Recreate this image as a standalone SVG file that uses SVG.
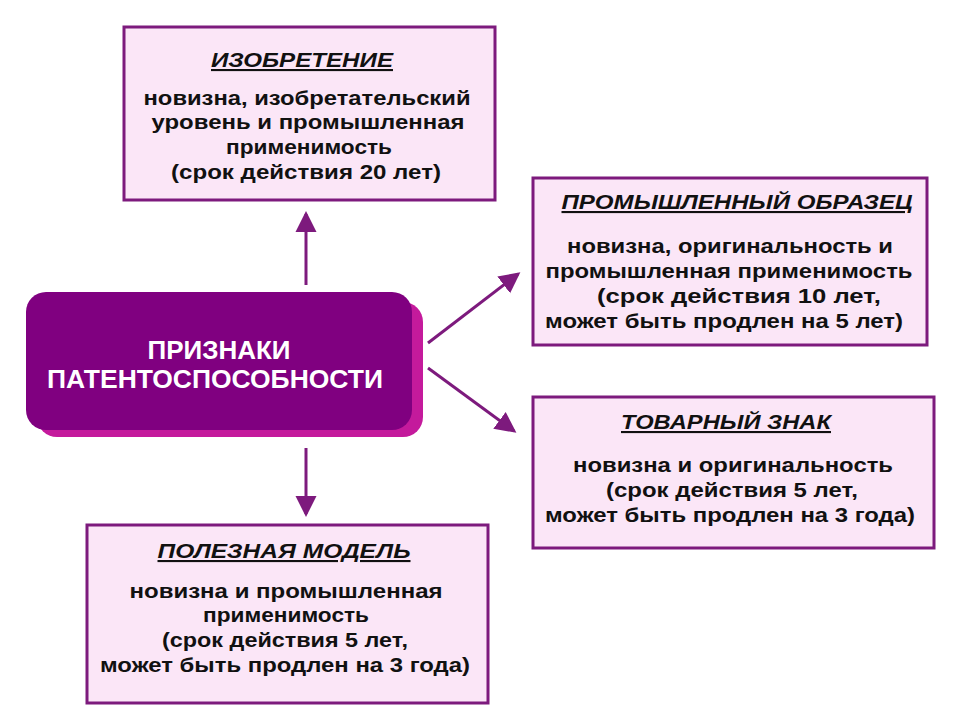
<svg xmlns="http://www.w3.org/2000/svg" width="960" height="720" viewBox="0 0 960 720">
<style>
.box{fill:#fbe6f7;stroke:#7d1a7d;stroke-width:3}
.t{font-family:"Liberation Sans",Arial,sans-serif;font-weight:bold;font-size:21px;fill:#111;text-anchor:middle}
.h{font-style:italic;text-decoration:underline}
.c{stroke:#7d1a7d;stroke-width:3;fill:none;marker-end:url(#a)}
</style>
<defs><marker id="a" markerWidth="8" markerHeight="8" refX="6" refY="4" orient="auto" markerUnits="strokeWidth"><path d="M0,0.5 L7,4 L0,7.5 Z" fill="#7d1a7d"/></marker></defs>
<rect width="960" height="720" fill="#fff"/>
<g id="connectors">
<line class="c" x1="306" y1="285" x2="306" y2="214"/>
<line class="c" x1="428" y1="343" x2="518" y2="274"/>
<line class="c" x1="428" y1="368" x2="514" y2="431"/>
<line class="c" x1="306" y1="448" x2="306" y2="514"/>
</g>
<g id="center">
<rect x="37" y="302" width="386" height="135" rx="20" fill="#c41a9c"/>
<rect x="26" y="292" width="386" height="138" rx="20" fill="#800080"/>
<text class="t" x="219" y="359" style="fill:#fff;font-size:25px" textLength="143" lengthAdjust="spacingAndGlyphs">ПРИЗНАКИ</text>
<text class="t" x="215" y="388" style="fill:#fff;font-size:25px" textLength="336" lengthAdjust="spacingAndGlyphs">ПАТЕНТОСПОСОБНОСТИ</text>
</g>
<g id="invention">
<rect class="box" x="124" y="27" width="371" height="173"/>
<text class="t h" x="302" y="67" textLength="182" lengthAdjust="spacingAndGlyphs">ИЗОБРЕТЕНИЕ </text>
<text class="t" x="307" y="105" textLength="327" lengthAdjust="spacingAndGlyphs">новизна, изобретательский</text>
<text class="t" x="308" y="129" textLength="313" lengthAdjust="spacingAndGlyphs">уровень и промышленная</text>
<text class="t" x="309" y="154" textLength="166" lengthAdjust="spacingAndGlyphs">применимость</text>
<text class="t" x="306" y="179" textLength="270" lengthAdjust="spacingAndGlyphs">(срок действия 20 лет)</text>
</g>
<g id="design">
<rect class="box" x="533" y="178" width="394" height="167"/>
<text class="t h" x="737" y="209" textLength="351" lengthAdjust="spacingAndGlyphs">ПРОМЫШЛЕННЫЙ ОБРАЗЕЦ</text>
<text class="t" x="730" y="253" textLength="326" lengthAdjust="spacingAndGlyphs">новизна, оригинальность и</text>
<text class="t" x="729" y="278" textLength="367" lengthAdjust="spacingAndGlyphs">промышленная применимость</text>
<text class="t" x="739" y="303" textLength="284" lengthAdjust="spacingAndGlyphs">(срок действия 10 лет,</text>
<text class="t" x="724" y="328" textLength="358" lengthAdjust="spacingAndGlyphs">может быть продлен на 5 лет)</text>
</g>
<g id="trademark">
<rect class="box" x="533" y="397" width="401" height="151"/>
<text class="t h" x="726" y="429" textLength="210" lengthAdjust="spacingAndGlyphs">ТОВАРНЫЙ ЗНАК</text>
<text class="t" x="733" y="472" textLength="320" lengthAdjust="spacingAndGlyphs">новизна и оригинальность</text>
<text class="t" x="732" y="497" textLength="252" lengthAdjust="spacingAndGlyphs">(срок действия 5 лет,</text>
<text class="t" x="730" y="522" textLength="370" lengthAdjust="spacingAndGlyphs">может быть продлен на 3 года)</text>
</g>
<g id="utility">
<rect class="box" x="87" y="525" width="401" height="178"/>
<text class="t h" x="284" y="558" textLength="253" lengthAdjust="spacingAndGlyphs">ПОЛЕЗНАЯ МОДЕЛЬ </text>
<text class="t" x="286" y="598" textLength="313" lengthAdjust="spacingAndGlyphs">новизна и промышленная</text>
<text class="t" x="286" y="622" textLength="166" lengthAdjust="spacingAndGlyphs">применимость</text>
<text class="t" x="285" y="647" textLength="246" lengthAdjust="spacingAndGlyphs">(срок действия 5 лет,</text>
<text class="t" x="285" y="672" textLength="370" lengthAdjust="spacingAndGlyphs">может быть продлен на 3 года)</text>
</g>
</svg>
